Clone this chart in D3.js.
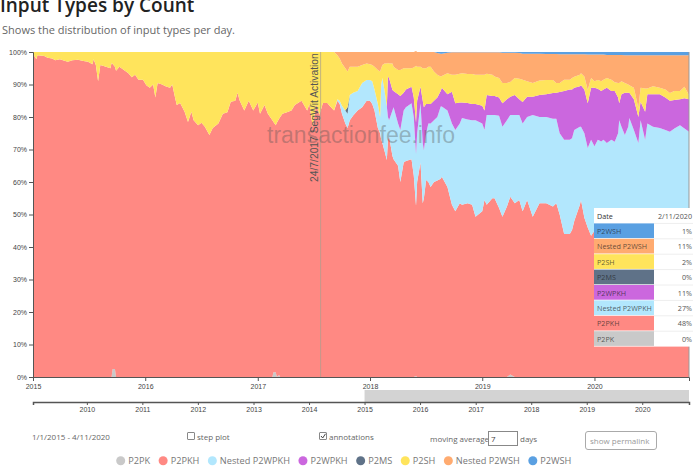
<!DOCTYPE html>
<html>
<head>
<meta charset="utf-8">
<script src="https://cdnjs.cloudflare.com/ajax/libs/d3/7.8.5/d3.min.js"></script>
<style>
  html, body { margin: 0; padding: 0; background: #fff; overflow: hidden; }
  svg { display: block; }
  text { font-family: "Open Sans", sans-serif; }
  .axis text { font-family: "Liberation Sans", Arial, sans-serif; font-size: 7px; fill: #444; }
  .axis path, .axis line { stroke: #555; }
</style>
</head>
<body>
<svg id="chart" width="700" height="474"></svg>
<script>
// Sample dates, as decimal years.
const years = [
  2015.00,2015.03,2015.04,2015.10,2015.13,2015.17,2015.20,2015.24,2015.28,2015.31,
  2015.35,2015.40,2015.45,2015.49,2015.53,2015.54,2015.56,2015.58,2015.60,2015.65,
  2015.69,2015.70,2015.71,2015.73,2015.74,2015.77,2015.81,2015.85,2015.88,2015.91,
  2015.94,2015.98,2016.01,2016.04,2016.07,2016.09,2016.11,2016.15,2016.18,2016.22,
  2016.24,2016.26,2016.28,2016.31,2016.35,2016.38,2016.41,2016.43,2016.47,2016.50,
  2016.53,2016.57,2016.60,2016.65,2016.69,2016.73,2016.76,2016.80,2016.82,2016.84,
  2016.88,2016.92,2016.96,2017.00,2017.02,2017.06,2017.09,2017.13,2017.14,2017.16,
  2017.17,2017.19,2017.20,2017.22,2017.26,2017.30,2017.33,2017.39,2017.44,2017.46,
  2017.49,2017.52,2017.55,2017.58,2017.62,2017.64,2017.68,2017.71,2017.73,2017.75,
  2017.78,2017.80,2017.82,2017.85,2017.89,2017.93,2017.97,2018.00,2018.02,2018.04,
  2018.07,2018.09,2018.10,2018.11,2018.13,2018.15,2018.16,2018.17,2018.20,2018.21,
  2018.25,2018.27,2018.30,2018.32,2018.37,2018.39,2018.41,2018.42,2018.45,2018.47,
  2018.48,2018.50,2018.52,2018.54,2018.57,2018.60,2018.63,2018.64,2018.69,2018.73,
  2018.76,2018.80,2018.82,2018.87,2018.91,2018.94,2019.00,2019.02,2019.04,2019.09,
  2019.11,2019.15,2019.18,2019.22,2019.25,2019.29,2019.33,2019.36,2019.40,2019.45,
  2019.51,2019.57,2019.63,2019.66,2019.69,2019.73,2019.78,2019.80,2019.82,2019.87,
  2019.88,2019.91,2019.94,2019.97,2020.00,2020.03,2020.06,2020.08,2020.11,2020.15,
  2020.18,2020.21,2020.22,2020.24,2020.27,2020.30,2020.31,2020.35,2020.39,2020.41,
  2020.45,2020.47,2020.52,2020.58,2020.63,2020.67,2020.71,2020.76,2020.80,2020.84
];

// Share of inputs per type, in percent.
const p2pk = [
  0,0,0,0,0,0,0,0,0,0, 0,0,0,0,0,0,0,0,0,0,
  0,0,2.5,2.5,0,0,0,0,0,0, 0,0,0,0,0,0,0,0,0,0,
  0,0,0,0,0,0,0,0,0,0, 0,0,0,0,0,0,0,0,0,0,
  0,0,0,0,0,0,0,0,1.5,1.5, 0,.6,0,0,0,0,0,0,0,0,
  0,0,0,0,0,0,0,0,0,0, 0,0,0,0,0,0,0,0,0,0,
  0,0,0,0,0,0,0,0,0,0, 0,0,0,0,0,0,.3,0,0,0,
  0,0,0,0,0,0,0,0,0,0, 0,0,0,0,0,0,0,0,0,0,
  0,0,0,0,.8,0,0,0,0,0, 0,0,0,0,0,0,0,0,0,0,
  0,0,0,0,0,0,0,0,0,0, 0,0,0,0,0,0,0,0,0,0,
  0,0,0,0,0,0,0,0,0,0
];
const p2pkh = [
  99.5,97.8,99,98.8,98.2,98,97.5,97.8,97.3,97,
  97.5,97.6,97.2,97,96.2,97.8,96,91,96,95.5,
  95,96.6,93.8,93,94.2,95.5,94.5,93.5,92.2,93,
  91.5,91.5,89.8,89,90,86,90.5,90,89.5,89,
  90,86.8,83.7,84.3,81.6,78.5,81.6,79,77.5,78.2,
  77,74.5,76.6,78,81,81.5,84.7,85,87.5,85,
  82,85,82,84.5,81,83.7,81,79,77,76,
  78.2,78.9,80,81,81.5,82,83.7,85,82,84,
  77,84,80.7,84.3,84.3,83.5,82,85,84,81,
  78,76.6,79,80.5,82,83,85,85,84,82,
  76.6,75,73,72,69.5,66.8,73,74,68,67,
  65,60,66,66.5,67,62,52.4,60,66,53.5,
  55,60.6,60,58.5,60,60.5,61,61.6,58.5,53,
  51,53.5,53,53.5,53,49.3,51,54.5,53,55,
  55,52,49.3,52.5,54.7,53.5,54.5,51,54.5,49.3,
  53.5,53.5,52.5,53.5,50,44,44,45.2,48,53,
  54.5,49,46,43.5,45,48,48,47,47.5,48,
  47.5,47.5,48,48,48,48,48,48,47.5,48,
  48,48,48,48,48,48,48,48,48,48
];
const nestedP2wpkh = [
  0,0,0,0,0,0,0,0,0,0, 0,0,0,0,0,0,0,0,0,0,
  0,0,0,0,0,0,0,0,0,0, 0,0,0,0,0,0,0,0,0,0,
  0,0,0,0,0,0,0,0,0,0, 0,0,0,0,0,0,0,0,0,0,
  0,0,0,0,0,0,0,0,0,0, 0,0,0,0,0,0,0,0,0,0,
  0,0,0,0,0,0,0,.5,1,2.5,
  4,4.4,7.8,7,6,7.5,6.4,6.4,7,6.5,
  7.4,5,17,20,18.5,16.4,7,5,14,16,
  13,16,16,16.5,17.2,18,15.9,15,18.2,18.5,
  14.8,14.4,18,19.5,19,19.5,22.2,21.6,23.5,25,
  25,24.5,26.7,25.7,26,29.7,27,21.5,27.6,25.6,
  25.6,28.4,27.7,26.5,25.1,27.1,26.1,27,25.5,31.3,
  26.5,26.5,27,26,25,29,29,28.3,28,24,
  22.5,26,24.5,29.5,26,25,24.5,26,24.5,25,
  24.9,27.5,31,29,26.5,29,31.7,28,24.5,31,
  25,30,29,28.6,28,27.5,28.5,29.5,28.5,27.5
];
const p2wpkh = [
  0,0,0,0,0,0,0,0,0,0, 0,0,0,0,0,0,0,0,0,0,
  0,0,0,0,0,0,0,0,0,0, 0,0,0,0,0,0,0,0,0,0,
  0,0,0,0,0,0,0,0,0,0, 0,0,0,0,0,0,0,0,0,0,
  0,0,0,0,0,0,0,0,0,0, 0,0,0,0,0,0,0,0,0,0,
  0,0,0,0,0,0,0,0,0,0, 0,0,0,0,0,0,0,0,0,0,
  0,0,0,0,0,0,12.5,13,6.3,5,
  9,10.5,5.5,5.5,5.1,6,9.7,10,5.1,13,
  13.2,9,6,6,6,6,4.8,5.8,5,9.8,
  8.2,6.5,4.8,5.1,5,5,5.5,6,6.2,5.9,
  5.9,5.6,7.2,6.5,5.6,6.2,4.9,6.6,6.2,5.6,
  6.8,7,7.9,8,12.7,15,15.5,15,13,12.5,
  12.8,13.5,13.7,16,18,15.7,15.5,15.5,17,15,
  15.6,11,5.2,10,13,10.5,7.8,9.5,8,5.7,
  8.6,9,10,10.4,10,9.5,8.7,8,9.3,10
];
const p2ms = [
  0,0,0,0,0,0,0,0,0,0, 0,0,0,0,0,0,0,0,0,0,
  0,0,0,0,0,0,0,0,0,0, 0,0,0,0,0,0,0,0,0,0,
  0,0,0,0,0,0,0,0,0,0, 0,0,0,0,0,0,0,0,0,0,
  0,0,0,0,0,0,0,0,0,0, 0,0,0,0,0,0,0,0,0,0,
  0,0,0,0,0,0,0,0,0,0, 0,2,0,0,0,0,0,0,0,0,
  0,0,0,0,0,0,0,0,0,0, 0,0,0,0,0,0,0,0,0,0,
  0,0,0,0,0,0,0,0,0,0, 0,0,0,0,0,0,0,0,0,0,
  0,0,0,0,0,0,0,0,0,0, 0,0,0,0,0,0,0,0,0,0,
  0,0,0,0,0,0,0,0,0,0, 0,0,0,0,0,0,0,0,0,0,
  0,0,0,0,0,0,0,0,0,0
];
const p2sh = [
  .5,2.2,1,1.2,1.8,2,2.5,2.2,2.7,3,
  2.5,2.4,2.8,3,3.8,2.2,4,9,4,4.5,
  5,3.4,3.7,4.5,5.8,4.5,5.5,6.5,7.8,7,
  8.5,8.5,10.2,11,10,14,9.5,10,10.5,11,
  10,13.2,16.3,15.7,18.4,21.5,18.4,21,22.5,21.8,
  23,25.5,23.4,22,19,18.5,15.3,15,12.5,15,
  18,15,18,15.5,19,16.3,19,21,21.5,22.5,
  21.8,20.5,20,19,18.5,18,16.3,15,18,16,
  23,16,19.3,15.7,15.7,16.5,18,13.5,13,13,
  13,11,8.7,8,7.5,5.5,5.1,4.8,5,7,
  10.5,14,5,4,8.5,13.3,4.1,4.5,8.2,7.5,
  7.5,8,7.5,6.5,5.7,9.2,17.5,10.5,6.2,10,
  12,11,11.5,11.5,9,7,4.5,3.6,6.5,5.2,
  8.8,8.8,9,8.9,9.2,9,9.5,11,6.5,6.5,
  6,6,6.3,5,4.6,5.2,6.3,6.9,4.8,4.3,
  4.4,4.4,4,3,2.8,3.5,3,3.5,3.4,3.5,
  3.7,4,4.1,3,2,2.7,3,3,3,3.5,
  2.7,4.5,6.3,4,3,2.5,2.3,3.5,2.8,4.3,
  7.2,1.8,2.5,2,2.5,2.4,2.8,2.5,3.5,1.3
];
const nestedP2wsh = [
  0,0,0,0,0,0,0,0,0,0, 0,0,0,0,0,0,0,0,0,0,
  0,0,0,0,0,0,0,0,0,0, 0,0,0,0,0,0,0,0,0,0,
  0,0,0,0,0,0,0,0,0,0, 0,0,0,0,0,0,0,0,0,0,
  0,0,0,0,0,0,0,0,0,0, 0,0,0,0,0,0,0,0,0,0,
  0,0,0,0,0,0,0,1,2,3.5,
  5,6,4.5,4.5,4.5,4,3.5,3.8,4,4.5,
  5.5,6,5,4,3.5,3.5,3.4,3.5,3.5,4.5,
  5.5,5.5,5,5,5,4.8,4.5,4.5,4.5,5,
  5,5,4.5,4.5,6,6.7,7,6.9,6.3,6.9,
  6.9,6.6,6.4,6.7,6.7,6.9,6.9,6.9,6.6,6.9,
  7.4,7.9,9.3,9.3,9,7.8,7.9,8,8.5,9,
  8.3,8,8,8.9,8.8,7.8,7.8,7.3,6.9,6.3,
  5.8,6.8,10.9,7.2,8.2,7.8,8.2,7.7,7.1,7.6,
  8.4,8.6,8.6,8.1,8.5,9,9.2,10,16.2,10,
  10.2,10.2,9.5,10,10.5,11.6,11,11,9.7,12.2
];
const p2wsh = [
  0,0,0,0,0,0,0,0,0,0, 0,0,0,0,0,0,0,0,0,0,
  0,0,0,0,0,0,0,0,0,0, 0,0,0,0,0,0,0,0,0,0,
  0,0,0,0,0,0,0,0,0,0, 0,0,0,0,0,0,0,0,0,0,
  0,0,0,0,0,0,0,0,0,0, 0,0,0,0,0,0,0,0,0,0,
  0,0,0,0,0,0,0,0,0,0, 0,0,0,0,0,0,0,0,0,0,
  0,0,0,0,0,0,0,0,0,0, 0,0,0,0,0,0,0,0,0,0,
  0,0,0,0,0,.3,.5,.5,.2,.1,
  .1,.1,.1,.1,.1,.1,.1,.1,.1,.1,
  .1,.1,.2,.2,.2,.2,.3,.5,.5,.5,
  .5,.6,.6,.6,.7,.7,.7,.7,.7,.7,
  .7,.7,.8,.8,.8,.8,.8,.8,.9,.9,
  .9,.9,.9,.9,1,1,1,1,1,1,
  1,1,1,1,1,1,1,1,1,1
];

const seriesNames  = [ 'P2PK', 'P2PKH', 'Nested P2WPKH', 'P2WPKH', 'P2MS', 'P2SH', 'Nested P2WSH', 'P2WSH' ];
const seriesValues = [ p2pk, p2pkh, nestedP2wpkh, p2wpkh, p2ms, p2sh, nestedP2wsh, p2wsh ];
const seriesColors = [ '#c9c9c9', '#ff8983', '#b2e7fd', '#cb67de', '#5f7288', '#ffe45c', '#ffab70', '#5aa0e2' ];

// Hover table, top row first.
const tooltipDate   = '2/11/2020';
const tooltipNames  = [ 'P2WSH', 'Nested P2WSH', 'P2SH', 'P2MS', 'P2WPKH', 'Nested P2WPKH', 'P2PKH', 'P2PK' ];
const tooltipValues = [ 1, 11, 2, 0, 11, 27, 48, 0 ];

const yTicks = [ 0, 10, 20, 30, 40, 50, 60, 70, 80, 90, 100 ];

const toDate = y => {
  const whole = Math.floor( y );
  const start = +new Date( whole, 0, 1 );
  return new Date( start + ( y - whole ) * ( +new Date( whole + 1, 0, 1 ) - start ) );
};

const rows = years.map( ( y, i ) => {
  const row = { date: toDate( y ) };
  seriesNames.forEach( ( name, s ) => row[ name ] = seriesValues[ s ][ i ] );
  return row;
} );

const svg = d3.select( '#chart' );

// Sizes.
const plotLeft = 33, plotRight = 689, plotTop = 52, plotBottom = 377;

const x = d3.scaleTime().domain( [ toDate( 2015 ), toDate( 2020.84 ) ] ).range( [ plotLeft, plotRight ] );
const y = d3.scaleLinear().domain( [ 0, 100 ] ).range( [ plotBottom, plotTop ] );
const xOverview = d3.scaleTime().domain( [ toDate( 2009.03 ), toDate( 2020.84 ) ] ).range( [ plotLeft, plotRight ] );

// Title.
svg.append( 'text' ).attr( 'x', 0 ).attr( 'y', 12 )
  .style( 'font-size', '19px' ).style( 'font-weight', 600 ).attr( 'fill', '#222' )
  .text( 'Input Types by Count' );
svg.append( 'text' ).attr( 'x', 2 ).attr( 'y', 34 )
  .style( 'font-size', '11px' ).attr( 'fill', '#666' )
  .text( 'Shows the distribution of input types per day.' );

// Stacked areas.
const stack = d3.stack().keys( seriesNames );
const area = d3.area()
  .x( d => x( d.data.date ) )
  .y0( d => y( d[0] ) )
  .y1( d => y( d[1] ) );

svg.append( 'g' ).selectAll( 'path' )
  .data( stack( rows ) )
  .join( 'path' )
  .attr( 'fill', ( d, i ) => seriesColors[ i ] )
  .attr( 'd', area );

// Right edge of the plot.
svg.append( 'line' )
  .attr( 'x1', plotRight ).attr( 'x2', plotRight ).attr( 'y1', plotTop ).attr( 'y2', plotBottom )
  .attr( 'stroke', '#999' );

// Axes.
svg.append( 'g' ).attr( 'class', 'axis' )
  .attr( 'transform', `translate( ${plotLeft}, 0 )` )
  .call( d3.axisLeft( y ).tickValues( yTicks ).tickFormat( d => d + '%' ).tickSize( 4 ).tickPadding( 2 ) );
svg.append( 'g' ).attr( 'class', 'axis' )
  .attr( 'transform', `translate( 0, ${plotBottom} )` )
  .call( d3.axisBottom( x ).ticks( d3.timeYear.every( 1 ) ).tickFormat( d3.timeFormat( '%Y' ) ).tickSize( 4 ).tickPadding( 3 ) );

// SegWit annotation.
const segwit = toDate( 2017.56 );
svg.append( 'line' )
  .attr( 'x1', x( segwit ) ).attr( 'x2', x( segwit ) ).attr( 'y1', plotTop ).attr( 'y2', plotBottom )
  .attr( 'stroke', '#a8a090' ).attr( 'stroke-opacity', 0.7 );
svg.append( 'text' )
  .attr( 'transform', `translate( ${x( segwit ) - 3}, 182 ) rotate( -90 )` )
  .style( 'font-family', '"Liberation Sans", Arial, sans-serif' )
  .style( 'font-size', '10.3px' ).attr( 'fill', '#555' )
  .text( '24/7/2017 SegWit Activation' );

// Watermark.
svg.append( 'text' ).attr( 'x', 267 ).attr( 'y', 143 )
  .style( 'font-family', '"Liberation Sans", Arial, sans-serif' )
  .style( 'font-size', '23px' ).attr( 'fill', '#505050' ).attr( 'fill-opacity', 0.36 )
  .text( 'transactionfee.info' );

// Overview axis and brush.
svg.append( 'rect' )
  .attr( 'x', xOverview( toDate( 2015 ) ) ).attr( 'y', 390 )
  .attr( 'width', plotRight - xOverview( toDate( 2015 ) ) ).attr( 'height', 12 )
  .attr( 'fill', '#d3d3d3' );
const overviewAxis = svg.append( 'g' ).attr( 'class', 'axis' )
  .attr( 'transform', 'translate( 0, 402 )' )
  .call( d3.axisBottom( xOverview ).ticks( d3.timeYear.every( 1 ) ).tickFormat( d3.timeFormat( '%Y' ) ).tickSize( 3 ).tickPadding( 2 ) );
overviewAxis.select( '.domain' ).attr( 'stroke', '#888' ).attr( 'stroke-width', 1.5 );

// Controls.
const controlText = ( px, py, label, fill ) => svg.append( 'text' )
  .attr( 'x', px ).attr( 'y', py )
  .style( 'font-size', '8px' ).attr( 'fill', fill || '#666' )
  .text( label );
const box = ( px, py, w, h, r ) => svg.append( 'rect' )
  .attr( 'x', px ).attr( 'y', py ).attr( 'width', w ).attr( 'height', h ).attr( 'rx', r )
  .attr( 'fill', '#fff' ).attr( 'stroke', '#888' );

controlText( 32, 440, '1/1/2015 - 4/11/2020' );
box( 187.5, 432.5, 7, 7, 0.5 );
controlText( 197, 439.5, 'step plot' );
box( 319.5, 432.5, 7, 7, 0.5 );
svg.append( 'path' )
  .attr( 'd', 'M321 436 L322.7 438 L325.5 433.8' )
  .attr( 'fill', 'none' ).attr( 'stroke', '#444' );
controlText( 329, 439.5, 'annotations' );
controlText( 430, 442, 'moving average' );
box( 488.5, 431.5, 29, 14, 0 );
controlText( 491, 442, '7', '#444' );
controlText( 520, 442, 'days' );
box( 585.5, 431.5, 71, 18, 2.5 ).attr( 'stroke', '#aaa' );
controlText( 590, 443.5, 'show permalink', '#999' );

// Legend, flowing left to right.
let legendX = 120.7;
seriesNames.forEach( ( name, i ) => {
  svg.append( 'circle' )
    .attr( 'cx', legendX ).attr( 'cy', 460.7 ).attr( 'r', 4.5 )
    .attr( 'fill', seriesColors[ i ] );
  const label = svg.append( 'text' )
    .attr( 'x', legendX + 7.5 ).attr( 'y', 464.2 )
    .style( 'font-size', '9.2px' ).attr( 'fill', '#777' )
    .text( name );
  legendX += 7.5 + label.node().getComputedTextLength() + 13;
} );

// Hover table.
const tableX = 594, tableTop = 208, rowH = 15.4, labelW = 60, tableW = 99;
const table = svg.append( 'g' ).style( 'font-size', '7.2px' );
table.append( 'rect' )
  .attr( 'x', tableX ).attr( 'y', tableTop )
  .attr( 'width', tableW ).attr( 'height', rowH * 9 )
  .attr( 'fill', '#fff' );
table.append( 'text' ).attr( 'x', tableX + 3 ).attr( 'y', tableTop + 11 )
  .attr( 'fill', '#333' ).text( 'Date' );
table.append( 'text' ).attr( 'x', tableX + tableW - 1 ).attr( 'y', tableTop + 11 )
  .attr( 'text-anchor', 'end' ).attr( 'fill', '#555' ).text( tooltipDate );

tooltipNames.forEach( ( name, i ) => {
  const rowY = tableTop + rowH * ( i + 1 );
  table.append( 'rect' )
    .attr( 'x', tableX ).attr( 'y', rowY )
    .attr( 'width', labelW ).attr( 'height', rowH - 0.7 )
    .attr( 'fill', seriesColors[ seriesNames.indexOf( name ) ] );
  table.append( 'text' ).attr( 'x', tableX + 3 ).attr( 'y', rowY + 10.5 )
    .attr( 'fill', '#222' ).attr( 'fill-opacity', 0.7 ).text( name );
  table.append( 'text' ).attr( 'x', tableX + tableW - 1 ).attr( 'y', rowY + 10.5 )
    .attr( 'text-anchor', 'end' ).attr( 'fill', '#555' ).text( tooltipValues[ i ] + '%' );
  table.append( 'line' )
    .attr( 'x1', tableX + labelW ).attr( 'x2', tableX + tableW )
    .attr( 'y1', rowY ).attr( 'y2', rowY )
    .attr( 'stroke', '#eee' );
} );
</script>
</body>
</html>
